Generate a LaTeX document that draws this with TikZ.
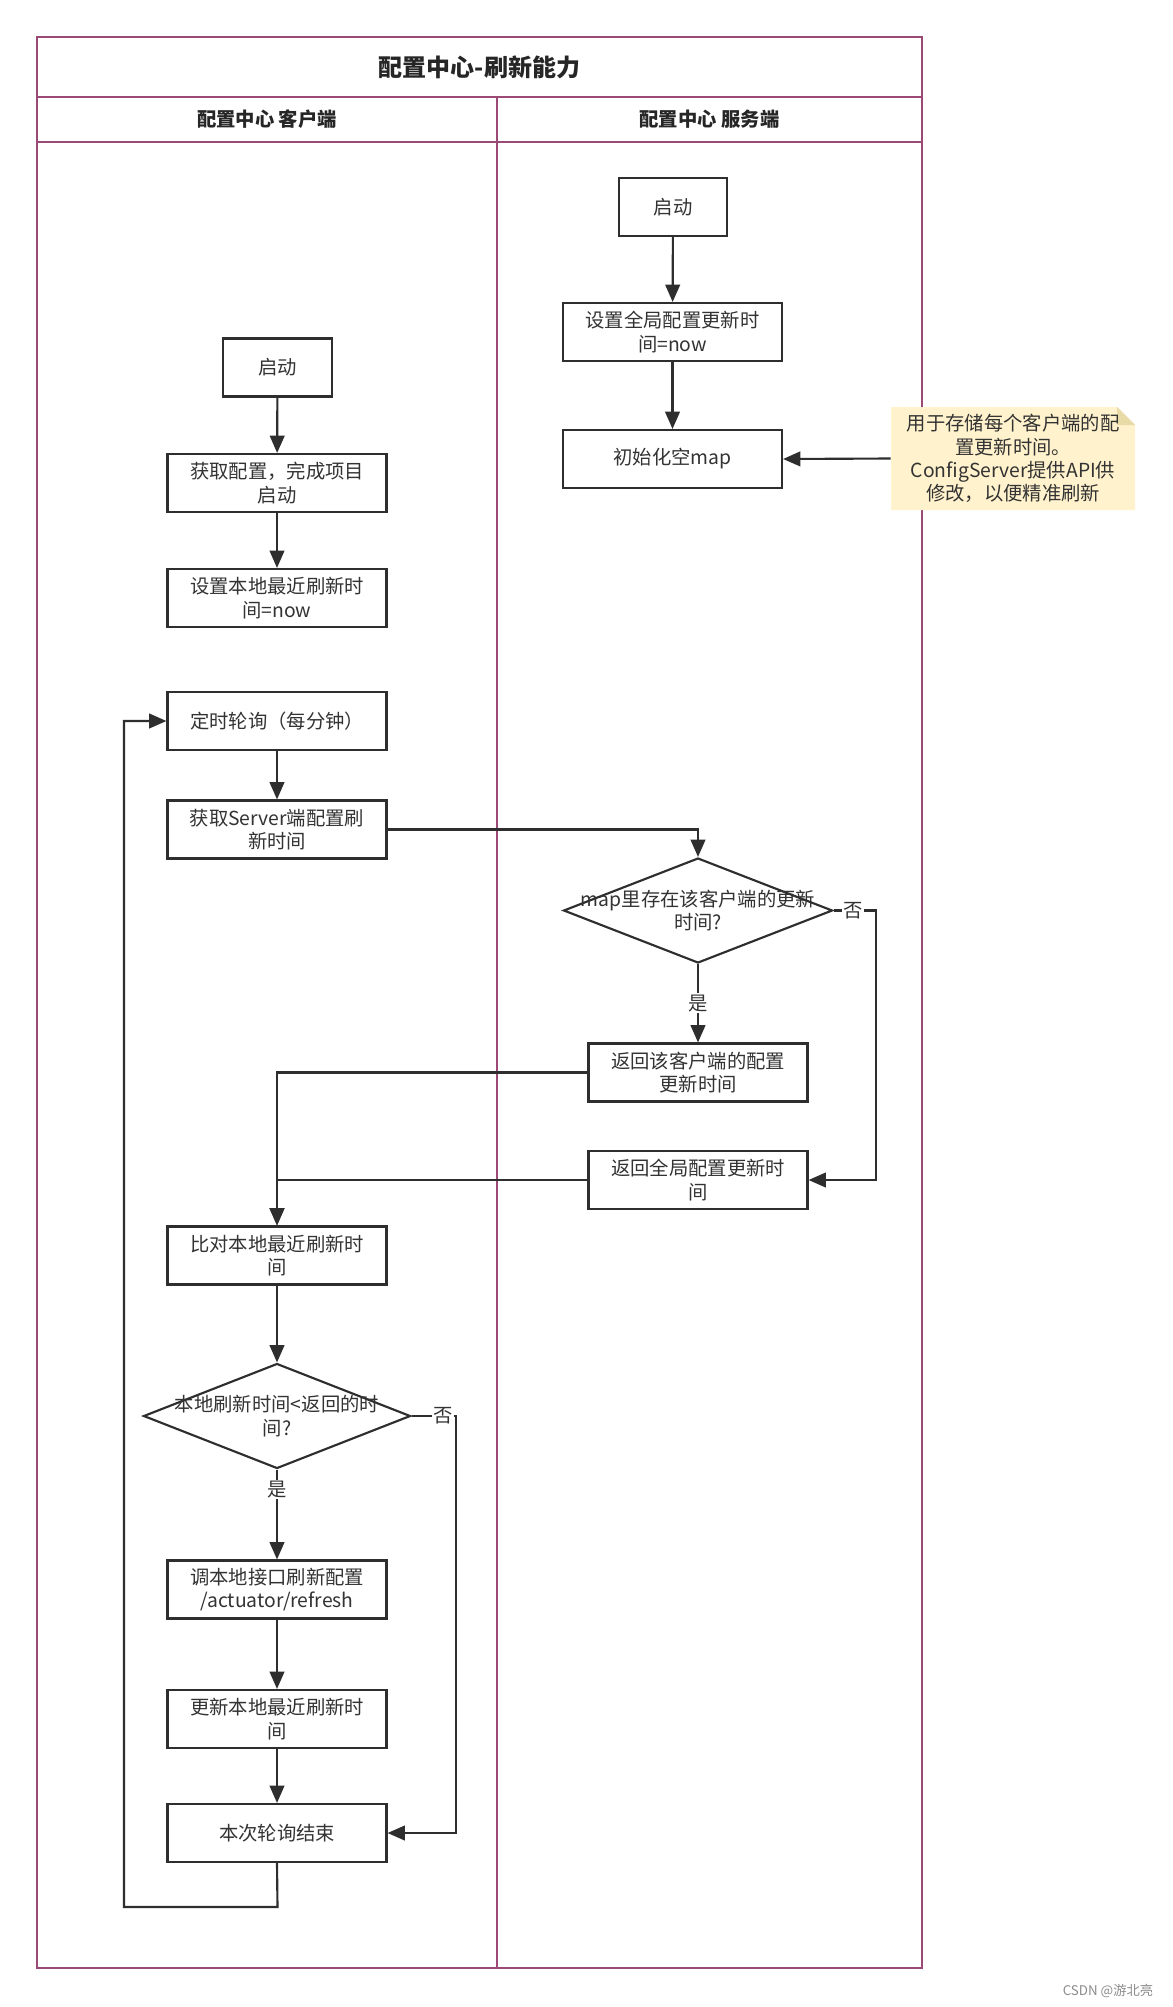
\documentclass[tikz,border=0pt]{standalone}
\usepackage{fontspec}
\setmainfont{Noto Sans CJK SC}
\usetikzlibrary{arrows.meta,shapes.geometric}
\definecolor{lanec}{HTML}{9B4A78}
\definecolor{linec}{HTML}{2E2E2E}
\definecolor{textc}{HTML}{333333}
\definecolor{notefill}{HTML}{FFF2CC}
\definecolor{notefold}{HTML}{E9DBA8}
\definecolor{wmc}{HTML}{8C8C8C}
\newcommand\fsz{\fontsize{14.5pt}{17.5pt}\selectfont}
\tikzset{
  box/.style={draw=linec, line width=1.6pt, fill=white, minimum width=164.25pt, minimum height=43.5pt, align=center, inner sep=0pt, text=textc, font=\fsz},
  smallbox/.style={box, minimum width=81.5pt},
  dia/.style={draw=linec, line width=1.6pt, fill=white, diamond, inner sep=0pt},
  diatext/.style={align=center, inner sep=0pt, text=textc, font=\fsz},
  arr/.style={draw=linec, line width=1.6pt, -{Triangle[length=13pt,width=11pt]}},
  lbl/.style={fill=white, inner sep=1pt, text=textc, font=\fsz},
  lane/.style={draw=lanec, line width=1.8pt},
  hdr/.style={inner sep=0pt, text=black!85, font=\fsz\bfseries},
  notetext/.style={align=center, inner sep=0pt, text=textc, font=\fsz, minimum width=183pt, minimum height=77.25pt},
}
\begin{document}
\begin{tikzpicture}[x=0.75pt,y=-0.75pt]
\useasboundingbox (0,0) rectangle (1173,2007);
\fill[white] (0,0) rectangle (1173,2007);

% swimlane frame
\draw[lane] (37,37) rectangle (922,1968);
\draw[lane] (37,97) -- (922,97);
\draw[lane] (37,142) -- (922,142);
\draw[lane] (497,97) -- (497,1968);
\node[hdr, font=\fontsize{18pt}{20pt}\selectfont\bfseries] (title) at (479.5,67) {配置中心-刷新能力};
\node[hdr] (hcl) at (267,119.5) {配置中心 客户端};
\node[hdr] (hsv) at (709.5,119.5) {配置中心 服务端};

% client lane
\node[smallbox] (cs) at (277.5,367.5) {启动};
\node[box] (cf) at (277,483) {获取配置，完成项目\\启动};
\node[box] (cn) at (277,598) {设置本地最近刷新时\\间=now};
\node[box] (cp) at (277,721) {定时轮询（每分钟）};
\node[box] (cg) at (277,829.5) {获取Server端配置刷\\新时间};
\node[box] (cc) at (277,1255.5) {比对本地最近刷新时\\间};
\node[dia, minimum width=200.25pt, minimum height=78.75pt] (cd) at (277,1416) {};
\node[diatext] (cdt) at (277,1416) {本地刷新时间<返回的时\\间?};
\node[box] (cr) at (277,1589.5) {调本地接口刷新配置\\/actuator/refresh};
\node[box] (cu) at (277,1719) {更新本地最近刷新时\\间};
\node[box] (ce) at (277,1833) {本次轮询结束};

% server lane
\node[smallbox] (ss) at (673,207) {启动};
\node[box] (sg) at (672.5,332) {设置全局配置更新时\\间=now};
\node[box] (si) at (672.5,459) {初始化空map};
\node[dia, minimum width=201.75pt, minimum height=78.75pt] (sd) at (698,910.5) {};
\node[diatext] (sdt) at (698,910.5) {map里存在该客户端的更新\\时间?};
\node[box] (sr1) at (698,1072.5) {返回该客户端的配置\\更新时间};
\node[box] (sr2) at (698,1180) {返回全局配置更新时\\间};

% note
\fill[notefill] (891,407) -- (1117,407) -- (1135,425) -- (1135,510) -- (891,510) -- cycle;
\fill[notefold] (1117,407) -- (1117,425) -- (1135,425) -- cycle;
\node[notetext] (note) at (1013,458.5) {用于存储每个客户端的配\\置更新时间。\\ConfigServer提供API供\\修改，以便精准刷新};

% coordinates for bends
\coordinate (sdR) at (876,910.5);
\coordinate (cdR) at (456,1416);
\coordinate (lpA) at (277.5,1907);
\coordinate (lpB) at (124,1907);

% connectors
\draw[arr] (cs) -- (cf);
\draw[arr] (cf) -- (cn);
\draw[arr] (cp) -- (cg);
\draw[arr] (cg.east) -| (sd.north);
\draw[arr] (ss) -- (sg);
\draw[arr] (sg) -- (si);
\draw[arr] (note.west) -- (si.east);
\draw[arr] (sd.south) -- node[lbl, pos=0.5] (ly1) {是} (sr1.north);
\draw[arr] (sd.east) -- node[lbl, pos=0.45] (ln1) {否} (sdR) |- (sr2.east);
\draw[arr] (sr1.west) -| (cc.north);
\draw[arr] (sr2.west) -| (cc.north);
\draw[arr] (cc) -- (cd);
\draw[arr] (cd.south) -- node[lbl, pos=0.22] (ly2) {是} (cr.north);
\draw[arr] (cd.east) -- node[lbl, pos=0.7] (ln2) {否} (cdR) |- (ce.east);
\draw[arr] (cr) -- (cu);
\draw[arr] (cu) -- (ce);
\draw[arr] (ce.south) -- (lpA) -- (lpB) |- (cp.west);

% watermark
\node[inner sep=0pt, text=wmc, font=\fontsize{10pt}{12pt}\selectfont] (wm) at (1108,1991) {CSDN @游北亮};
\end{tikzpicture}
\end{document}
